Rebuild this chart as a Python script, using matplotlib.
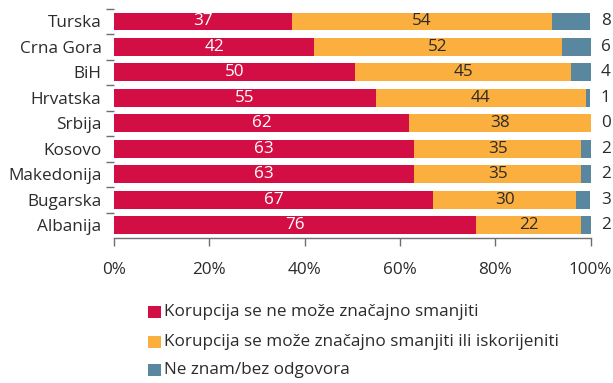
import matplotlib
matplotlib.use("Agg")
import matplotlib.pyplot as plt
from matplotlib.patches import Rectangle
import numpy as np

plt.rcParams['font.family'] = ['Open Sans', 'DejaVu Sans']

countries = ["Turska", "Crna Gora", "BiH", "Hrvatska", "Srbija",
             "Kosovo", "Makedonija", "Bugarska", "Albanija"]
cannot_reduce = [37, 42, 50, 55, 62, 63, 63, 67, 76]
can_reduce = [54, 52, 45, 44, 38, 35, 35, 30, 22]
dont_know = [8, 6, 4, 1, 0, 2, 2, 3, 2]
series_names = ["Korupcija se ne može značajno smanjiti",
                "Korupcija se može značajno smanjiti ili iskorijeniti",
                "Ne znam/bez odgovora"]
x_ticks = [0, 20, 40, 60, 80, 100]

RED = "#D30E44"
YELLOW = "#FBAF3F"
BLUE = "#5A87A0"
TEXT = "#2B2B2B"
GRAY = "#6E6E6E"

fig = plt.figure(figsize=(6.13, 3.83), dpi=100)
ax = fig.add_axes([114 / 613, 1 - 238 / 383, 476.5 / 613, (238 - 8.7) / 383])

a = np.array(cannot_reduce, float)
b = np.array(can_reduce, float)
c = np.array(dont_know, float)
tot = a + b + c
pa, pb, pc = a / tot * 100, b / tot * 100, c / tot * 100

y = np.arange(len(countries))
h = 0.7
ax.barh(y, pa, height=h, color=RED, linewidth=0)
ax.barh(y, pb, left=pa, height=h, color=YELLOW, linewidth=0)
ax.barh(y, pc, left=pa + pb, height=h, color=BLUE, linewidth=0)

fs = 12.3
for i in range(len(countries)):
    ax.text(pa[i] / 2, y[i], f"{cannot_reduce[i]}", color="white",
            ha="center", va="center", fontsize=fs)
    ax.text(pa[i] + pb[i] / 2, y[i], f"{can_reduce[i]}", color=TEXT,
            ha="center", va="center", fontsize=fs)
    ax.text(103.2, y[i], f"{dont_know[i]}", color=TEXT,
            ha="center", va="center", fontsize=fs, clip_on=False)

ax.set_xlim(0, 100)
ax.set_ylim(len(countries) - 0.5, -0.5)

for s in ["top", "right", "left"]:
    ax.spines[s].set_visible(False)
ax.spines["bottom"].set_color(GRAY)
ax.spines["bottom"].set_linewidth(1.0)

ax.set_xticks(x_ticks)
ax.set_xticklabels([f"{t}%" for t in x_ticks], fontsize=fs, color=TEXT)
ax.tick_params(axis="x", length=6, width=1.0, color=GRAY, pad=11)

# category labels at bar centres, tick marks at category boundaries
ax.set_yticks(y)
ax.set_yticklabels(countries, fontsize=fs, color=TEXT)
ax.tick_params(axis="y", length=0, pad=9)
ax.set_yticks(np.arange(-0.5, len(countries) - 0.5, 1.0), minor=True)
ax.tick_params(axis="y", which="minor", length=6, width=1.0, color=GRAY)

# legend
legend_colors = [RED, YELLOW, BLUE]
legend_y = [312, 341.5, 370]
for col, name, yy in zip(legend_colors, series_names, legend_y):
    fig.patches.append(Rectangle((148.3 / 613, 1 - (yy + 6) / 383), 12.2 / 613, 12 / 383,
                                 transform=fig.transFigure, color=col, linewidth=0))
    fig.text(164 / 613, 1 - yy / 383, name, fontsize=fs, color=TEXT,
             ha="left", va="center")

fig.savefig("out.png", dpi=100)
